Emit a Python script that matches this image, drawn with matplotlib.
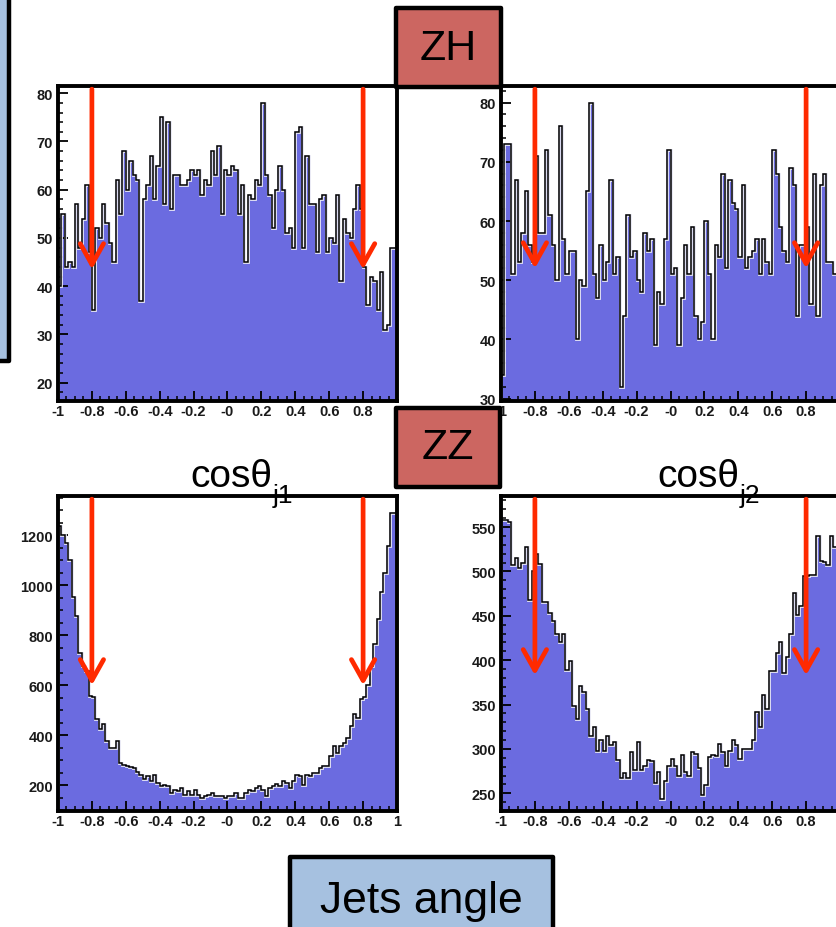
import numpy as np
import matplotlib
matplotlib.use("Agg")
import matplotlib.pyplot as plt
from matplotlib.patches import Rectangle
from matplotlib.ticker import FixedLocator, MultipleLocator

plt.rcParams['font.family'] = ['Liberation Sans', 'DejaVu Sans']

W, H = 836, 928

# histogram contents, 100 bins in cos(theta) from -1 to 1
edges = np.linspace(-1, 1, 101)

zh_j1 = [40, 55, 44, 45, 44, 57, 48, 54, 61, 47,
         35, 52, 50, 57, 53, 49, 45, 62, 55, 68,
         60, 66, 63, 62, 37, 58, 61, 67, 58, 65,
         75, 57, 74, 56, 63, 63, 61, 61, 62, 64,
         63, 64, 59, 62, 61, 68, 63, 69, 55, 64,
         63, 65, 64, 55, 61, 45, 59, 58, 62, 61,
         78, 63, 59, 52, 60, 65, 60, 51, 52, 48,
         72, 73, 48, 67, 57, 57, 47, 58, 59, 47,
         50, 49, 59, 41, 54, 51, 50, 56, 61, 56,
         44, 36, 42, 41, 35, 43, 31, 32, 48, 48]

zh_j2 = [34, 73, 73, 51, 67, 53, 58, 65, 56, 53,
         71, 58, 58, 72, 61, 56, 50, 76, 57, 51,
         55, 55, 40, 50, 49, 65, 80, 51, 47, 56,
         50, 53, 67, 51, 54, 32, 44, 61, 54, 55,
         50, 48, 58, 55, 57, 39, 48, 46, 57, 72,
         51, 52, 39, 47, 56, 51, 59, 44, 40, 43,
         60, 51, 40, 56, 54, 68, 52, 67, 63, 62,
         54, 66, 52, 54, 55, 57, 51, 57, 53, 51,
         72, 68, 59, 55, 53, 69, 66, 44, 56, 56,
         59, 46, 68, 44, 66, 68, 53, 53, 51, 51]

zz_j1 = [1236, 1200, 1169, 1102, 954, 878, 730, 679, 659, 557,
         552, 464, 427, 444, 377, 350, 350, 377, 290, 283,
         279, 274, 270, 253, 243, 226, 239, 216, 243, 210,
         196, 203, 199, 170, 183, 176, 190, 163, 176, 163,
         183, 163, 149, 156, 163, 170, 156, 159, 159, 149,
         159, 156, 170, 149, 149, 170, 183, 176, 190, 199,
         183, 156, 190, 199, 207, 196, 216, 210, 190, 216,
         243, 236, 203, 243, 236, 250, 250, 270, 279, 279,
         317, 357, 330, 357, 370, 391, 438, 485, 471, 545,
         552, 600, 679, 767, 867, 975, 1048, 1156, 1290, 1290]

zz_j2 = [558, 558, 556, 507, 515, 504, 510, 528, 468, 500,
         520, 508, 466, 466, 453, 444, 429, 420, 429, 389,
         399, 348, 334, 371, 364, 345, 315, 325, 298, 310,
         298, 315, 304, 308, 287, 267, 273, 267, 296, 276,
         308, 276, 281, 287, 286, 262, 274, 244, 264, 281,
         289, 281, 269, 293, 274, 269, 296, 294, 278, 248,
         259, 291, 293, 292, 306, 296, 281, 298, 310, 304,
         289, 300, 300, 300, 310, 342, 325, 361, 345, 388,
         388, 408, 421, 386, 404, 430, 476, 451, 461, 495,
         495, 496, 496, 540, 512, 511, 507, 540, 528, 566]

xticks = [-1, -0.8, -0.6, -0.4, -0.2, 0, 0.2, 0.4, 0.6, 0.8, 1]
xlabels = ['-1', '-0.8', '-0.6', '-0.4', '-0.2', '-0', '0.2', '0.4', '0.6', '0.8', '1']

# cut positions (red arrows) and the arrow tip heights per panel
cuts = [-0.8, 0.8]
tip_zh_j1 = [43.5, 43.5]
tip_zh_j2 = [52, 52]
tip_zz_j1 = [600, 600]
tip_zz_j2 = [383, 383]

fill_col = '#6b6be0'
red = '#ff2a00'


def px_rect(x0, y0, x1, y1):
    return [x0 / W, 1 - y1 / H, (x1 - x0) / W, (y1 - y0) / H]


def draw_hist(rect, vals, ylim, minor, yticks, tips, show_last=True):
    ax = fig.add_axes(rect)
    ax.stairs(vals, edges, fill=True, color=fill_col, baseline=0, zorder=1)
    ax.stairs(vals, edges, color='#e8e8f4', lw=2.0, baseline=0, zorder=2)
    ax.stairs(vals, edges, color='black', lw=1.1, baseline=0, zorder=3)
    ax.set_xlim(-1, 1)
    ax.set_ylim(*ylim)
    ax.xaxis.set_major_locator(FixedLocator(xticks))
    labs = list(xlabels)
    if not show_last:
        labs[-1] = ''
    ax.set_xticklabels(labs)
    ax.xaxis.set_minor_locator(MultipleLocator(0.05))
    ax.yaxis.set_major_locator(FixedLocator(yticks))
    ax.yaxis.set_minor_locator(MultipleLocator(minor))
    ax.tick_params(which='both', direction='in', top=False, right=False,
                   color='black', labelsize=10.5, labelcolor='#1a1a1a')
    ax.tick_params(axis='x', pad=2.5)
    ax.tick_params(axis='y', pad=3.5)
    ax.tick_params(which='major', length=7, width=1.3)
    ax.tick_params(which='minor', length=3.5, width=1.1)
    for t in ax.get_xticklabels() + ax.get_yticklabels():
        t.set_fontweight('bold')
    for s in ax.spines.values():
        s.set_linewidth(2.8)
        s.set_color('black')
    for c, tip in zip(cuts, tips):
        ax.annotate('', xy=(c, tip), xytext=(c, 0.99),
                    textcoords=('data', 'axes fraction'),
                    arrowprops=dict(arrowstyle='->, head_length=0.75, head_width=0.42',
                                    color=red, lw=3.4, mutation_scale=20,
                                    shrinkA=0, shrinkB=0),
                    annotation_clip=False, zorder=5)
    return ax


fig = plt.figure(figsize=(W / 100, H / 100), dpi=100)
fig.patch.set_facecolor('white')

draw_hist(px_rect(58, 87, 397, 402), zh_j1, (16.2, 81.5), 2,
          [20, 30, 40, 50, 60, 70, 80], tip_zh_j1, show_last=False)
draw_hist(px_rect(501, 87, 840, 402), zh_j2, (29.6, 82.8), 2,
          [30, 40, 50, 60, 70, 80], tip_zh_j2, show_last=False)
draw_hist(px_rect(58, 497, 397, 812), zz_j1, (97, 1357), 50,
          [200, 400, 600, 800, 1000, 1200], tip_zz_j1)
draw_hist(px_rect(501, 497, 840, 812), zz_j2, (230, 585), 10,
          [250, 300, 350, 400, 450, 500, 550], tip_zz_j2, show_last=False)


def box(x0, y0, x1, y1, fc, text=None, size=31, ty=None):
    r = Rectangle((x0 / W, 1 - y1 / H), (x1 - x0) / W, (y1 - y0) / H,
                  transform=fig.transFigure, facecolor=fc, edgecolor='black',
                  lw=3.2, joinstyle='round', zorder=10)
    fig.patches.append(r)
    if text:
        if ty is None:
            ty = (y0 + y1) / 2
        fig.text((x0 + x1) / 2 / W, 1 - ty / H, text, ha='center',
                 va='center', fontsize=size, color='black', zorder=11)


# slide decorations
box(-20, -20, 9, 362, '#a6c1e0')
box(396, 9, 501, 88, '#cc6661', 'ZH')
box(396, 409, 500, 488, '#cc6661', 'ZZ')
box(290, 858, 553, 960, '#a6c1e0', 'Jets angle', size=32, ty=902)

# cos(theta) titles: main text, then subscript right after it
renderer = fig.canvas.get_renderer()
for x0, sub in [(190, 'j1'), (657, 'j2')]:
    t = fig.text(x0 / W, 1 - 487 / H, 'cosθ', fontsize=28, va='baseline',
                 ha='left', zorder=11)
    bb = t.get_window_extent(renderer=renderer)
    fig.text(bb.x1 / W + 0.001, 1 - 503 / H, sub, fontsize=19, va='baseline',
             ha='left', zorder=11)

fig.savefig('out.png', dpi=100)
